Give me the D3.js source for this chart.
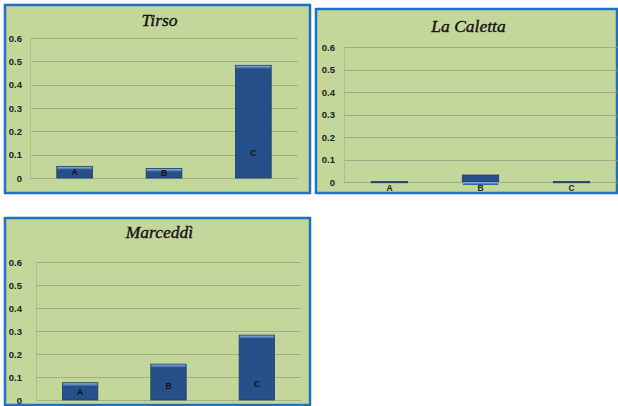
<!DOCTYPE html>
<html><head><meta charset="utf-8">
<script src="https://cdn.jsdelivr.net/npm/d3@7"></script>
<style>body{margin:0;background:#fff}svg{display:block}</style>
</head><body>
<svg id="c" width="618" height="406"></svg>
<script>
const categories = ["A", "B", "C"];
const tirsoValues = [0.05, 0.041, 0.483];
const laCalettaValues = [0.002, 0.031, 0.002];
const marceddiValues = [0.075, 0.156, 0.282];
const yTicks = [0, 0.1, 0.2, 0.3, 0.4, 0.5, 0.6];
const tickLabels = ["0", "0.1", "0.2", "0.3", "0.4", "0.5", "0.6"];
const titles = ["Tirso", "La Caletta", "Marceddì"];
// where the category letter sits (data units) ; null = below the axis
const tirsoLabelAt = [0.025, 0.02, 0.107];
const marceddiLabelAt = [0.036, 0.06, 0.07];

const svg = d3.select("#c");
const defs = svg.append("defs");
const g1 = defs.append("linearGradient").attr("id","hl").attr("x1",0).attr("y1",0).attr("x2",0).attr("y2",1);
g1.append("stop").attr("offset","0%").attr("stop-color","#8fb0dc");
g1.append("stop").attr("offset","100%").attr("stop-color","#2a5590");

const panels = [
  {title: titles[0], values: tirsoValues, labelAt: tirsoLabelAt,
   box: [5, 5, 310, 193], plot: [30, 298, 38, 178], titleY: 26, labX: 22},
  {title: titles[1], values: laCalettaValues, labelAt: null,
   box: [316, 9, 617, 193], plot: [344, 617, 47, 182], titleY: 32, labX: 335},
  {title: titles[2], values: marceddiValues, labelAt: marceddiLabelAt,
   box: [5, 218, 310, 405], plot: [36, 301, 262, 400], titleY: 238, labX: 22}
];

panels.forEach(p => {
  const [bx0, by0, bx1, by1] = p.box;
  const [px0, px1, py0, py1] = p.plot;
  const g = svg.append("g");
  g.append("rect").attr("x", bx0).attr("y", by0).attr("width", bx1 - bx0).attr("height", by1 - by0)
    .attr("fill", "#c4d79b").attr("stroke", "#1f70c1").attr("stroke-width", 2.5);

  const x = d3.scaleBand().domain(categories).range([px0, px1]).paddingInner(0.6).paddingOuter(0.3);
  const y = d3.scaleLinear().domain([0, 0.6]).range([py1, py0]);

  g.append("text").attr("x", (bx0 + bx1) / 2 + 2).attr("y", p.titleY)
    .attr("text-anchor", "middle").attr("font-family", "Liberation Serif, serif")
    .attr("font-style", "italic").attr("font-size", 17.5).attr("fill", "#111")
    .attr("stroke", "#111").attr("stroke-width", 0.35).text(p.title);

  // grid
  g.selectAll("line.grid").data(yTicks).join("line").attr("class", "grid")
    .attr("x1", px0).attr("x2", px1).attr("y1", d => Math.round(y(d)) + 0.5).attr("y2", d => Math.round(y(d)) + 0.5)
    .attr("stroke", "#a2af86").attr("stroke-width", 1);
  g.append("line").attr("x1", px0 + 0.5).attr("x2", px0 + 0.5).attr("y1", y(0.6)).attr("y2", y(0))
    .attr("stroke", "#b0bd95").attr("stroke-width", 1);

  // y axis labels via d3 axis
  const ax = d3.axisLeft(y).tickValues(yTicks).tickFormat((d, i) => tickLabels[i]).tickSize(0).tickPadding(0);
  const axg = g.append("g").attr("transform", `translate(${p.labX},0)`).call(ax);
  axg.select(".domain").remove();
  axg.selectAll("text").attr("font-family", "Liberation Sans, Arial, sans-serif").attr("font-weight", "bold")
    .attr("font-size", 9.5).attr("fill", "#222");

  // bars
  const bw = x.bandwidth();
  const bars = g.selectAll("g.bar").data(categories).join("g").attr("class", "bar");
  bars.append("rect").attr("x", d => x(d)).attr("width", bw)
    .attr("y", (d, i) => y(p.values[i])).attr("height", (d, i) => Math.max(1.2, y(0) - y(p.values[i])))
    .attr("fill", "#27508a").attr("stroke", "#1a3a66").attr("stroke-width", 0.8);
  bars.filter((d, i) => y(0) - y(p.values[i]) > 5).append("rect")
    .attr("x", d => x(d) + 0.5).attr("width", bw - 1)
    .attr("y", (d, i) => y(p.values[i]) + 0.5).attr("height", 3).attr("fill", "url(#hl)");

  // category letters
  g.selectAll("text.cat").data(categories).join("text").attr("class", "cat")
    .attr("x", d => x(d) + bw / 2)
    .attr("y", (d, i) => p.labelAt ? y(p.labelAt[i]) + 3 : y(0) + 9)
    .attr("text-anchor", "middle").attr("font-family", "Liberation Sans, Arial, sans-serif")
    .attr("font-weight", "bold").attr("font-size", 8.5)
    .attr("fill", p.labelAt ? "#111" : "#222").text(d => d);
});
</script>
</body></html>
